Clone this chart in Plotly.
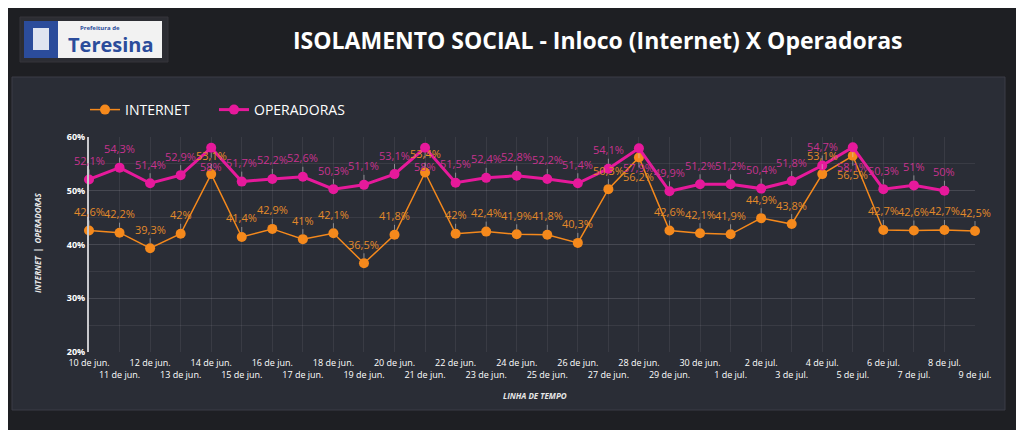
import plotly.graph_objects as go

# dates shown on the x axis (Portuguese short labels)
dates = ["10 de jun.", "11 de jun.", "12 de jun.", "13 de jun.", "14 de jun.", "15 de jun.",
         "16 de jun.", "17 de jun.", "18 de jun.", "19 de jun.", "20 de jun.", "21 de jun.",
         "22 de jun.", "23 de jun.", "24 de jun.", "25 de jun.", "26 de jun.", "27 de jun.",
         "28 de jun.", "29 de jun.", "30 de jun.", "1 de jul.", "2 de jul.", "3 de jul.",
         "4 de jul.", "5 de jul.", "6 de jul.", "7 de jul.", "8 de jul.", "9 de jul."]

internet = [42.6, 42.2, 39.3, 42, 53.1, 41.4, 42.9, 41, 42.1, 36.5, 41.8, 53.4, 42, 42.4, 41.9,
            41.8, 40.3, 50.3, 56.2, 42.6, 42.1, 41.9, 44.9, 43.8, 53.1, 56.5, 42.7, 42.6, 42.7, 42.5]

operadoras = [52.1, 54.3, 51.4, 52.9, 58, 51.7, 52.2, 52.6, 50.3, 51.1, 53.1, 58, 51.5, 52.4, 52.8,
              52.2, 51.4, 54.1, 57.9, 49.9, 51.2, 51.2, 50.4, 51.8, 54.7, 58.1, 50.3, 51, 50, None]

y_ticks = [20, 30, 40, 50, 60]

ORANGE = "#f5891c"
PINK = "#e6199b"
BG = "#1e1f23"
PANEL = "#2a2d36"

# the page body adds an 8px margin, so the figure is laid out 8px smaller
W, H, OFF = 1016, 422, 8
PLOT_L, PLOT_R, PLOT_T, PLOT_B = 89, 975, 137, 352  # plot box in screen px

# staggered tick labels: odd positions go on a second row
tick_text = [d if i % 2 == 0 else "<br>" + d for i, d in enumerate(dates)]


def pct(v):
    return f"{v:g}".replace(".", ",") + "%"


def px_x(p):
    return (p - PLOT_L) / (PLOT_R - PLOT_L)


def px_y(p):
    return (PLOT_B - p) / (PLOT_B - PLOT_T)


def label(x, y, text, size, color, **kw):
    return dict(x=px_x(x), y=px_y(y), xref="paper", yref="paper", showarrow=False,
                xanchor="center", yanchor="middle", text=text,
                font=dict(size=size, color=color, family="Open Sans"), **kw)


def legend_at(x):
    return dict(orientation="h", xref="container", yref="container",
                x=(x - OFF) / W, y=1 - (110 - OFF) / H, xanchor="left", yanchor="middle",
                font=dict(size=14, color="white"), bgcolor="rgba(0,0,0,0)", itemwidth=30)


fig = go.Figure()
fig.add_trace(go.Scatter(
    x=dates, y=internet, name="INTERNET", mode="lines+markers",
    line=dict(color=ORANGE, width=1.5),
    marker=dict(color=ORANGE, size=10),
    cliponaxis=False, legend="legend",
))
fig.add_trace(go.Scatter(
    x=dates, y=operadoras, name="OPERADORAS", mode="lines+markers",
    line=dict(color=PINK, width=3),
    marker=dict(color=PINK, size=10),
    cliponaxis=False, legend="legend2",
))

# data labels with small leader lines (flipped below near the top of the axis)
annotations = []
for series, color in ((operadoras, "#c8338f"), (internet, "#e38a2a")):
    for d, v in zip(dates, series):
        if v is None:
            continue
        annotations.append(dict(
            x=d, y=v, xref="x", yref="y", text=pct(v),
            showarrow=True, arrowhead=0, arrowwidth=1,
            arrowcolor="rgba(210,210,210,0.55)", standoff=5,
            ax=0, ay=19 if v >= 56 else -19,
            font=dict(size=11, color=color, family="Open Sans"),
        ))

annotations += [
    label(597, 40, "<b>ISOLAMENTO SOCIAL - Inloco (Internet) X Operadoras</b>", 23, "white"),
    label(37, 243, "<b><i>INTERNET  |  OPERADORAS</i></b>", 8, "#e8e8e8", textangle=-90),
    label(535, 395, "<b><i>LINHA DE TEMPO</i></b>", 8, "#e8e8e8"),
    # logo texts
    label(100, 28, "<b>Prefeitura de</b>", 6, "#2b4c9b"),
    label(111, 44, "<b>Teresina</b>", 20, "#2b4c9b"),
]

shapes = [
    # inner panel
    dict(type="rect", xref="paper", yref="paper", layer="below",
         x0=px_x(12), x1=px_x(1005), y0=px_y(410), y1=px_y(77),
         fillcolor=PANEL, line=dict(color="#3a3d47", width=1)),
    # logo frame
    dict(type="rect", xref="paper", yref="paper", layer="below",
         x0=px_x(20), x1=px_x(168), y0=px_y(62), y1=px_y(17),
         fillcolor="#2c2d33", line=dict(color="#34353b", width=1)),
    dict(type="rect", xref="paper", yref="paper", layer="below",
         x0=px_x(58), x1=px_x(162), y0=px_y(58), y1=px_y(21),
         fillcolor="#f2f2f2", line=dict(width=0)),
    dict(type="rect", xref="paper", yref="paper", layer="below",
         x0=px_x(24), x1=px_x(58), y0=px_y(58), y1=px_y(21),
         fillcolor="#2b4c9b", line=dict(width=0)),
    dict(type="rect", xref="paper", yref="paper", layer="below",
         x0=px_x(33), x1=px_x(49), y0=px_y(50), y1=px_y(28),
         fillcolor="rgba(255,255,255,0.85)", line=dict(width=0)),
]

fig.update_layout(
    width=W, height=H,
    margin=dict(l=PLOT_L - OFF, r=W - (PLOT_R - OFF), t=PLOT_T - OFF, b=H - (PLOT_B - OFF)),
    paper_bgcolor=BG, plot_bgcolor="rgba(0,0,0,0)",
    font=dict(family="Open Sans", color="white"),
    showlegend=True,
    legend=legend_at(85),
    legend2=legend_at(214),
    annotations=annotations,
    shapes=shapes,
)
fig.update_xaxes(
    type="category", range=[0, len(dates) - 1], automargin=False,
    tickmode="array", tickvals=dates, ticktext=tick_text,
    tickfont=dict(size=9, color="white"), tickangle=0, ticklabelstandoff=4,
    showgrid=True, gridcolor="rgba(255,255,255,0.07)",
    showline=False, zeroline=False, ticks="",
)
fig.update_yaxes(
    range=[20, 60], automargin=False,
    tickmode="array", tickvals=y_ticks, ticktext=[f"<b>{v}%</b>" for v in y_ticks],
    tickfont=dict(size=9, color="white"),
    showgrid=True, gridcolor="rgba(255,255,255,0.07)",
    minor=dict(dtick=5, showgrid=True, gridcolor="rgba(255,255,255,0.07)"),
    showline=True, linecolor="#c8c8cc", linewidth=2,
    zeroline=False, ticks="",
)

fig.write_html("out.html")
